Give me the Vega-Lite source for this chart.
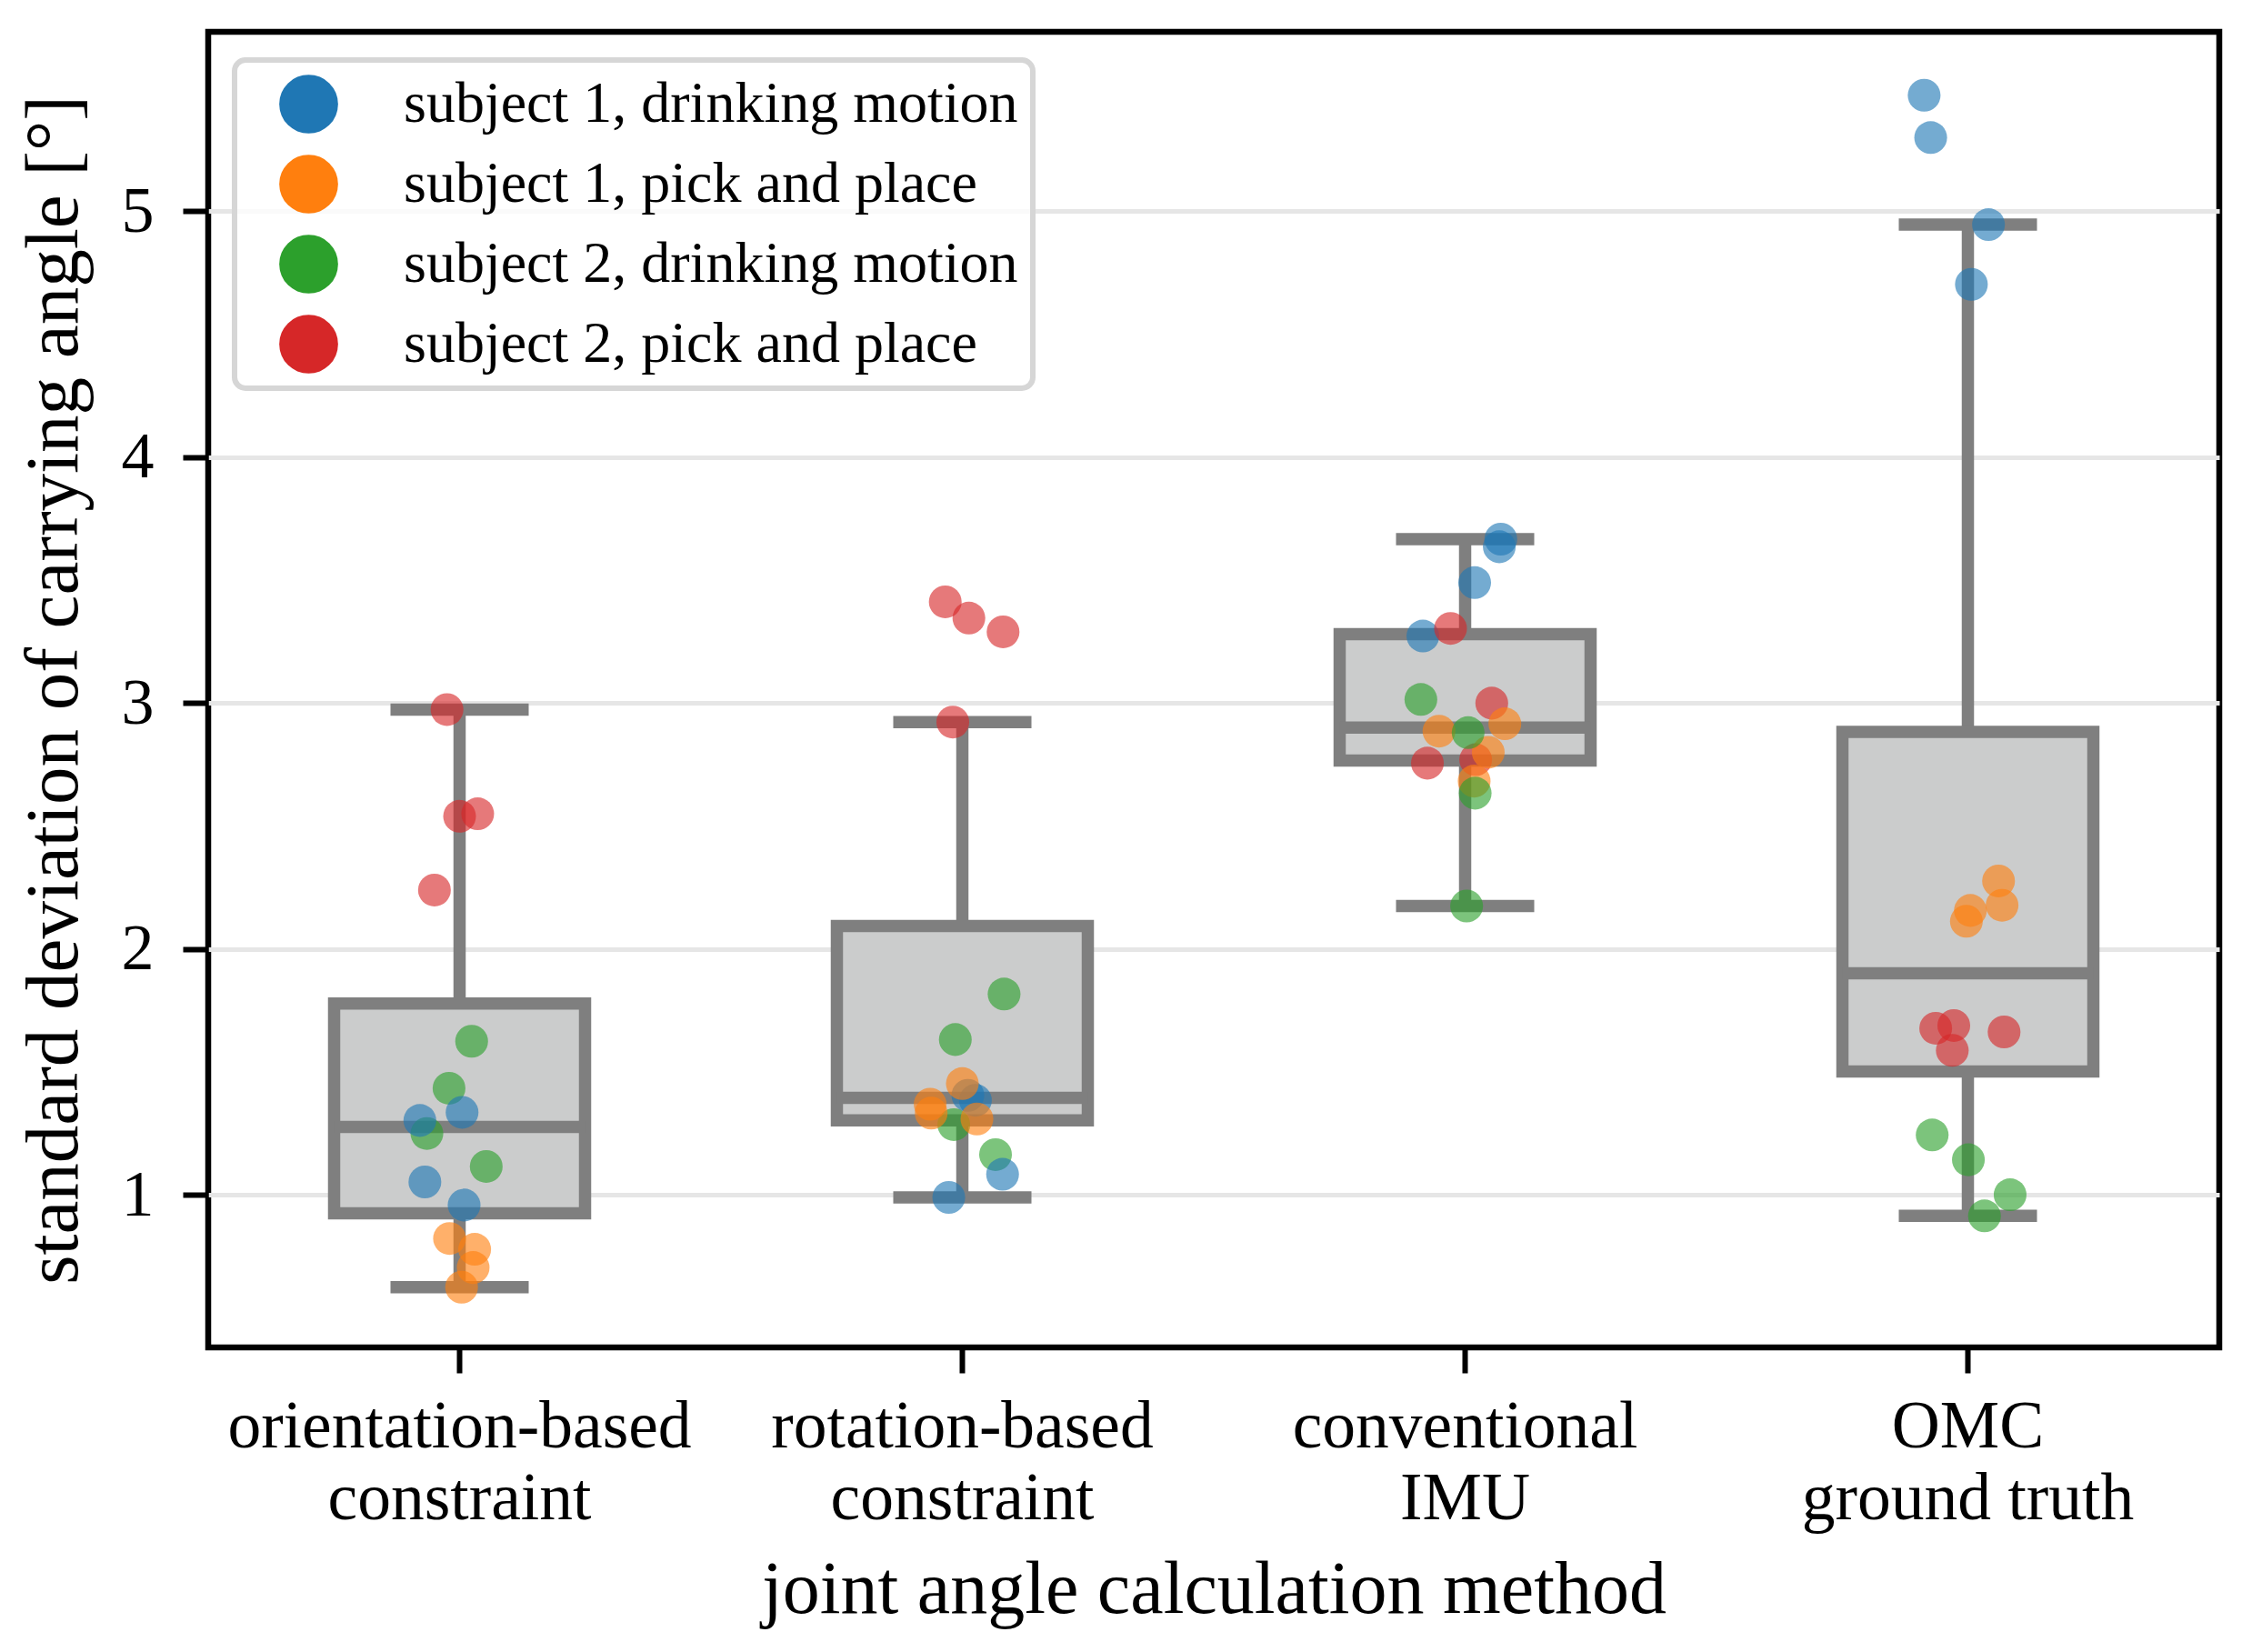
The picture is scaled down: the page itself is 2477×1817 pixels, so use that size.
{
  "$schema": "https://vega.github.io/schema/vega-lite/v6.json",
  "autosize": {"type": "none"},
  "padding": {"left": 229, "top": 35, "right": 36, "bottom": 335},
  "width": 2212,
  "height": 1447,
  "background": "white",
  "config": {
    "font": "Liberation Serif",
    "view": {"stroke": "black", "strokeWidth": 6.5},
    "axis": {
      "labelFont": "Liberation Serif",
      "titleFont": "Liberation Serif",
      "labelColor": "black",
      "titleColor": "black",
      "titleFontWeight": "normal",
      "tickColor": "black",
      "tickWidth": 6,
      "tickSize": 28,
      "domain": false
    },
    "legend": {
      "labelFont": "Liberation Serif",
      "labelColor": "black"
    }
  },
  "data": {
    "values": [
      {"method": "orientation-based constraint", "group": "subject 2, pick and place", "value": 2.974, "jitter": -0.025},
      {"method": "orientation-based constraint", "group": "subject 2, pick and place", "value": 2.54, "jitter": 0.0},
      {"method": "orientation-based constraint", "group": "subject 2, pick and place", "value": 2.55, "jitter": 0.036},
      {"method": "orientation-based constraint", "group": "subject 2, pick and place", "value": 2.24, "jitter": -0.05},
      {"method": "orientation-based constraint", "group": "subject 2, drinking motion", "value": 1.625, "jitter": 0.024},
      {"method": "orientation-based constraint", "group": "subject 2, drinking motion", "value": 1.434, "jitter": -0.021},
      {"method": "orientation-based constraint", "group": "subject 2, drinking motion", "value": 1.25, "jitter": -0.065},
      {"method": "orientation-based constraint", "group": "subject 2, drinking motion", "value": 1.116, "jitter": 0.053},
      {"method": "orientation-based constraint", "group": "subject 1, drinking motion", "value": 1.303, "jitter": -0.079},
      {"method": "orientation-based constraint", "group": "subject 1, drinking motion", "value": 1.336, "jitter": 0.005},
      {"method": "orientation-based constraint", "group": "subject 1, drinking motion", "value": 1.053, "jitter": -0.069},
      {"method": "orientation-based constraint", "group": "subject 1, drinking motion", "value": 0.959, "jitter": 0.009},
      {"method": "orientation-based constraint", "group": "subject 1, pick and place", "value": 0.823, "jitter": -0.02},
      {"method": "orientation-based constraint", "group": "subject 1, pick and place", "value": 0.779, "jitter": 0.03},
      {"method": "orientation-based constraint", "group": "subject 1, pick and place", "value": 0.705, "jitter": 0.027},
      {"method": "orientation-based constraint", "group": "subject 1, pick and place", "value": 0.625, "jitter": 0.004},

      {"method": "rotation-based constraint", "group": "subject 2, pick and place", "value": 3.412, "jitter": -0.034},
      {"method": "rotation-based constraint", "group": "subject 2, pick and place", "value": 3.346, "jitter": 0.013},
      {"method": "rotation-based constraint", "group": "subject 2, pick and place", "value": 3.29, "jitter": 0.081},
      {"method": "rotation-based constraint", "group": "subject 2, pick and place", "value": 2.923, "jitter": -0.019},
      {"method": "rotation-based constraint", "group": "subject 2, drinking motion", "value": 1.817, "jitter": 0.083},
      {"method": "rotation-based constraint", "group": "subject 2, drinking motion", "value": 1.632, "jitter": -0.014},
      {"method": "rotation-based constraint", "group": "subject 2, drinking motion", "value": 1.286, "jitter": -0.017},
      {"method": "rotation-based constraint", "group": "subject 2, drinking motion", "value": 1.164, "jitter": 0.066},
      {"method": "rotation-based constraint", "group": "subject 1, drinking motion", "value": 1.405, "jitter": 0.011},
      {"method": "rotation-based constraint", "group": "subject 1, drinking motion", "value": 1.385, "jitter": 0.026},
      {"method": "rotation-based constraint", "group": "subject 1, drinking motion", "value": 1.084, "jitter": 0.08},
      {"method": "rotation-based constraint", "group": "subject 1, drinking motion", "value": 0.99, "jitter": -0.027},
      {"method": "rotation-based constraint", "group": "subject 1, pick and place", "value": 1.453, "jitter": 0.0},
      {"method": "rotation-based constraint", "group": "subject 1, pick and place", "value": 1.369, "jitter": -0.064},
      {"method": "rotation-based constraint", "group": "subject 1, pick and place", "value": 1.333, "jitter": -0.062},
      {"method": "rotation-based constraint", "group": "subject 1, pick and place", "value": 1.309, "jitter": 0.029},

      {"method": "conventional IMU", "group": "subject 1, drinking motion", "value": 3.667, "jitter": 0.071},
      {"method": "conventional IMU", "group": "subject 1, drinking motion", "value": 3.636, "jitter": 0.068},
      {"method": "conventional IMU", "group": "subject 1, drinking motion", "value": 3.49, "jitter": 0.019},
      {"method": "conventional IMU", "group": "subject 1, drinking motion", "value": 3.273, "jitter": -0.084},
      {"method": "conventional IMU", "group": "subject 2, pick and place", "value": 3.304, "jitter": -0.029},
      {"method": "conventional IMU", "group": "subject 2, pick and place", "value": 3.0, "jitter": 0.053},
      {"method": "conventional IMU", "group": "subject 2, pick and place", "value": 2.756, "jitter": -0.075},
      {"method": "conventional IMU", "group": "subject 2, pick and place", "value": 2.77, "jitter": 0.021},
      {"method": "conventional IMU", "group": "subject 1, pick and place", "value": 2.886, "jitter": -0.052},
      {"method": "conventional IMU", "group": "subject 1, pick and place", "value": 2.916, "jitter": 0.079},
      {"method": "conventional IMU", "group": "subject 1, pick and place", "value": 2.8, "jitter": 0.046},
      {"method": "conventional IMU", "group": "subject 1, pick and place", "value": 2.683, "jitter": 0.018},
      {"method": "conventional IMU", "group": "subject 2, drinking motion", "value": 3.015, "jitter": -0.088},
      {"method": "conventional IMU", "group": "subject 2, drinking motion", "value": 2.88, "jitter": 0.006},
      {"method": "conventional IMU", "group": "subject 2, drinking motion", "value": 2.634, "jitter": 0.02},
      {"method": "conventional IMU", "group": "subject 2, drinking motion", "value": 2.175, "jitter": 0.003},

      {"method": "OMC ground truth", "group": "subject 1, drinking motion", "value": 5.472, "jitter": -0.087},
      {"method": "OMC ground truth", "group": "subject 1, drinking motion", "value": 5.3, "jitter": -0.074},
      {"method": "OMC ground truth", "group": "subject 1, drinking motion", "value": 4.946, "jitter": 0.041},
      {"method": "OMC ground truth", "group": "subject 1, drinking motion", "value": 4.703, "jitter": 0.007},
      {"method": "OMC ground truth", "group": "subject 1, pick and place", "value": 2.277, "jitter": 0.061},
      {"method": "OMC ground truth", "group": "subject 1, pick and place", "value": 2.178, "jitter": 0.068},
      {"method": "OMC ground truth", "group": "subject 1, pick and place", "value": 2.157, "jitter": 0.005},
      {"method": "OMC ground truth", "group": "subject 1, pick and place", "value": 2.113, "jitter": -0.003},
      {"method": "OMC ground truth", "group": "subject 2, pick and place", "value": 1.678, "jitter": -0.064},
      {"method": "OMC ground truth", "group": "subject 2, pick and place", "value": 1.689, "jitter": -0.028},
      {"method": "OMC ground truth", "group": "subject 2, pick and place", "value": 1.588, "jitter": -0.031},
      {"method": "OMC ground truth", "group": "subject 2, pick and place", "value": 1.663, "jitter": 0.072},
      {"method": "OMC ground truth", "group": "subject 2, drinking motion", "value": 1.244, "jitter": -0.071},
      {"method": "OMC ground truth", "group": "subject 2, drinking motion", "value": 1.143, "jitter": 0.001},
      {"method": "OMC ground truth", "group": "subject 2, drinking motion", "value": 1.001, "jitter": 0.084},
      {"method": "OMC ground truth", "group": "subject 2, drinking motion", "value": 0.915, "jitter": 0.033}
    ]
  },
  "encoding": {
    "x": {
      "field": "method",
      "type": "nominal",
      "sort": ["orientation-based constraint", "rotation-based constraint", "conventional IMU", "OMC ground truth"],
      "scale": {"paddingInner": 0, "paddingOuter": 0},
      "axis": {
        "title": "joint angle calculation method",
        "titleFontSize": 82,
        "titlePadding": 26,
        "labelFontSize": 73.5,
        "labelLineHeight": 79,
        "labelPadding": 23,
        "labelLimit": 1000,
        "labelAngle": 0,
        "grid": false,
        "labelExpr": "datum.value == 'OMC ground truth' ? ['OMC', 'ground truth'] : split(datum.value, ' ')"
      }
    },
    "y": {
      "field": "value",
      "type": "quantitative",
      "scale": {"domain": [0.38, 5.73], "nice": false, "zero": false},
      "axis": {
        "title": "standard deviation of carrying angle [°]",
        "titleFontSize": 83,
        "titlePadding": 32,
        "labelFontSize": 72,
        "labelPadding": 32,
        "values": [1, 2, 3, 4, 5],
        "format": "d",
        "grid": true,
        "gridColor": "#e6e6e6",
        "gridWidth": 5
      }
    }
  },
  "layer": [
    {
      "mark": {
        "type": "boxplot",
        "extent": 1.5,
        "size": 276,
        "outliers": false,
        "box": {"fill": "#cbcccc", "stroke": "#7f7f7f", "strokeWidth": 13.5, "opacity": 1},
        "median": {"color": "#7f7f7f", "thickness": 13.5, "opacity": 1},
        "rule": {"color": "#7f7f7f", "strokeWidth": 13.5, "opacity": 1},
        "ticks": {"color": "#7f7f7f", "size": 152, "thickness": 13.5, "opacity": 1}
      }
    },
    {
      "mark": {"type": "circle", "size": 1300, "opacity": 0.62},
      "encoding": {
        "xOffset": {"field": "jitter", "type": "quantitative", "scale": {"domain": [-0.5, 0.5]}},
        "color": {
          "field": "group",
          "type": "nominal",
          "scale": {
            "domain": ["subject 1, drinking motion", "subject 1, pick and place", "subject 2, drinking motion", "subject 2, pick and place"],
            "range": ["#1f77b4", "#ff7f0e", "#2ca02c", "#d62728"]
          },
          "legend": {
            "title": null,
            "orient": "none",
            "legendX": 29,
            "legendY": 31,
            "padding": 16,
            "fillColor": "rgba(255,255,255,0.8)",
            "strokeColor": "#d6d6d6",
            "cornerRadius": 12,
            "symbolType": "circle",
            "symbolSize": 4185,
            "symbolOpacity": 1,
            "symbolStrokeWidth": 0,
            "symbolOffset": 33,
            "labelOffset": 72,
            "labelFontSize": 64,
            "labelLimit": 2000,
            "rowPadding": 23,
            "encode": {"legend": {"update": {"strokeWidth": {"value": 6}}}}
          }
        }
      }
    }
  ]
}
